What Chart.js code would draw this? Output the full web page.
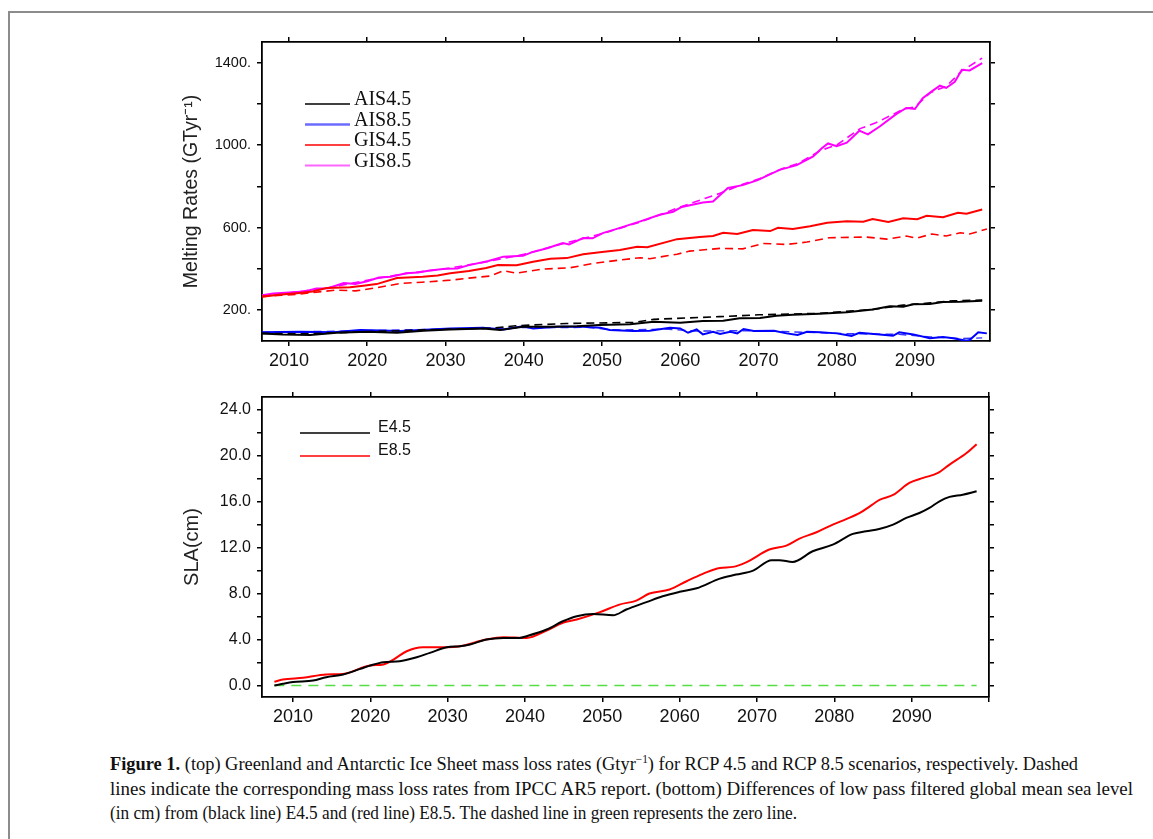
<!DOCTYPE html>
<html>
<head>
<meta charset="utf-8">
<script src="https://cdn.jsdelivr.net/npm/chart.js@4.4.1/dist/chart.umd.min.js"></script>
<style>
  html, body { margin: 0; padding: 0; background: #fff; }
  body { width: 1153px; height: 839px; position: relative; overflow: hidden; }
  #frame { position: absolute; left: 8px; top: 11px; width: 1200px; height: 900px;
           border-left: 2px solid #8c8c8c; border-top: 2px solid #8c8c8c; }
  .box { position: absolute; left: 0; width: 1153px; }
  #topBox { top: 0; height: 380px; }
  #botBox { top: 380px; height: 345px; }
  #caption { position: absolute; left: 110px; top: 752px; font-family: "Liberation Serif", serif;
             font-size: 19.5px; line-height: 24.5px; color: #111; }
  #caption div { white-space: nowrap; transform-origin: 0 0; width: max-content; }
  #caption sup { font-size: 12px; line-height: 0; }
</style>
</head>
<body>
<div id="frame"></div>
<div class="box" id="topBox"><canvas id="topChart"></canvas></div>
<div class="box" id="botBox"><canvas id="botChart"></canvas></div>
<div id="caption">
  <div data-w="968"><b>Figure 1.</b> (top) Greenland and Antarctic Ice Sheet mass loss rates (Gtyr<sup>−1</sup>) for RCP 4.5 and RCP 8.5 scenarios, respectively. Dashed</div>
  <div data-w="1023">lines indicate the corresponding mass loss rates from IPCC AR5 report. (bottom) Differences of low pass filtered global mean sea level</div>
  <div data-w="687">(in cm) from (black line) E4.5 and (red line) E8.5. The dashed line in green represents the zero line.</div>
</div>
<script>
// ---- top panel: melting rates (Gt/yr) ----
const ais45Years = [2006.5, 2009.2, 2012.7, 2016.1, 2020, 2023.8, 2027.2, 2030.6, 2034.8, 2037, 2039.9, 2043.4, 2046.8, 2049.7, 2053.6, 2056.6, 2060, 2062.9, 2065.5, 2067.6, 2070.2, 2072.3, 2074.4, 2077.8, 2081.3, 2084.6, 2086.8, 2088.5, 2089.8, 2091.9, 2093.6, 2095.8, 2098.6];
const ais45 = [87, 82, 79, 90, 95, 90, 100, 106, 111, 103, 119, 119, 122, 127, 131, 143, 138, 147, 148, 160, 161, 172, 177, 182, 190, 203, 219, 216, 228, 229, 239, 240, 245];

const ais45ArYears = [2006.5, 2012, 2020, 2030, 2036, 2039, 2045.5, 2054, 2056.6, 2065, 2070, 2077.8, 2084.6, 2088.5, 2092, 2094.9, 2098.6];
const ais45Ar = [87, 85, 95, 107, 112, 124, 135, 140, 155, 168, 177, 184, 203, 224, 235, 245, 248];

const ais85Years = [2006.5, 2011.4, 2015.7, 2019.1, 2024.2, 2030.6, 2034.8, 2037.4, 2039.9, 2041.2, 2044.3, 2047.6, 2049.8, 2051, 2054, 2056.1, 2058.7, 2060, 2061, 2062.1, 2062.9, 2064.2, 2065.1, 2066.4, 2067.3, 2068.1, 2069.4, 2072, 2073.6, 2075, 2076.2, 2077.9, 2080, 2081.9, 2082.9, 2085.5, 2087.2, 2088, 2089.8, 2091.9, 2093.6, 2094.9, 2096.6, 2097, 2098.1, 2099.2];
const ais85 = [92, 95, 92, 103, 98, 111, 114, 106, 122, 111, 119, 119, 114, 103, 98, 100, 114, 111, 90, 106, 82, 95, 84, 95, 87, 108, 98, 100, 87, 79, 95, 92, 87, 75, 90, 82, 75, 92, 82, 63, 69, 63, 51, 55, 92, 87];

const ais85ArYears = [2006.5, 2012, 2020, 2030, 2040, 2048, 2052, 2058, 2062, 2068, 2072, 2078, 2082, 2088, 2092, 2096, 2098.6];
const ais85Ar = [92, 95, 100, 108, 115, 116, 103, 108, 98, 100, 97, 90, 85, 82, 70, 62, 65];

const gis45Years = [2006.5, 2009, 2011, 2013, 2014.8, 2017.8, 2019.5, 2021.2, 2023.8, 2027.1, 2029, 2030.6, 2033, 2035.2, 2036.7, 2039.1, 2041.2, 2043.4, 2045.5, 2047.6, 2050, 2052.3, 2054.5, 2055.8, 2059.6, 2062.5, 2064.2, 2065.5, 2067.3, 2069.3, 2071.5, 2072.5, 2074.4, 2076.6, 2078.8, 2081.3, 2083.4, 2084.6, 2086.6, 2088.5, 2090.3, 2091.5, 2093.6, 2095.5, 2096.6, 2098.6];
const gis45 = [265, 275, 282, 290, 307, 311, 318, 326, 355, 362, 368, 378, 390, 404, 418, 417, 434, 449, 452, 471, 482, 491, 507, 505, 544, 554, 559, 575, 569, 588, 583, 599, 593, 607, 623, 631, 628, 641, 627, 645, 641, 657, 650, 672, 667, 688];

const gis45ArYears = [2006.5, 2009, 2011, 2013, 2016.1, 2018.5, 2021.2, 2024.2, 2027, 2030.6, 2033, 2035.7, 2037.4, 2039.1, 2042.5, 2045.9, 2048.9, 2052.3, 2054.9, 2056.1, 2059.6, 2061.2, 2065.1, 2068, 2070.6, 2073.6, 2076.2, 2079.1, 2083.8, 2086.4, 2088.9, 2090.2, 2092.2, 2094, 2095.8, 2097, 2099.2];
const gis45Ar = [265, 272, 276, 285, 297, 293, 308, 329, 335, 345, 355, 365, 391, 379, 399, 405, 426, 443, 454, 449, 471, 486, 499, 497, 523, 518, 530, 551, 554, 544, 559, 549, 569, 559, 575, 569, 593];

const gis85Years = [2006.5, 2008, 2010, 2012, 2013.5, 2015, 2017, 2018.5, 2020, 2021.5, 2023, 2025, 2026.5, 2028, 2030, 2031.5, 2033, 2035.5, 2037.4, 2039.9, 2041, 2043, 2045, 2045.8, 2047.6, 2048.8, 2050.1, 2052, 2054.9, 2057.4, 2059.1, 2060.2, 2062.9, 2064.2, 2065.1, 2066.1, 2068, 2069.9, 2072.7, 2074.9, 2077, 2078.1, 2078.9, 2080, 2081.3, 2082.9, 2084, 2085.5, 2087.6, 2088.9, 2090, 2091, 2092.2, 2093.2, 2094, 2095.1, 2096, 2097, 2098.6];
const gis85 = [272, 280, 285, 290, 305, 306, 331, 326, 340, 358, 362, 378, 382, 392, 400, 402, 418, 438, 459, 463, 480, 500, 525, 518, 549, 548, 573, 595, 630, 662, 677, 700, 722, 726, 758, 792, 806, 830, 880, 903, 945, 985, 1008, 995, 1012, 1070, 1052, 1090, 1150, 1180, 1175, 1228, 1262, 1288, 1277, 1307, 1365, 1362, 1398];

const gis85ArYears = [2006.5, 2010, 2015, 2020, 2025, 2030, 2035, 2040, 2045, 2050, 2055, 2060, 2065, 2068, 2070, 2073, 2075, 2078, 2080, 2083, 2085, 2087, 2088.5, 2090, 2092, 2094, 2096, 2098.6];
const gis85Ar = [270, 283, 308, 345, 378, 400, 432, 470, 522, 570, 628, 700, 765, 810, 835, 885, 910, 975, 1000, 1080, 1108, 1145, 1175, 1185, 1255, 1285, 1360, 1422];

const topYTicks = [200, 600, 1000, 1400];
const xTickYears = [2010, 2020, 2030, 2040, 2050, 2060, 2070, 2080, 2090];

// ---- bottom panel: sea level anomaly (cm) ----
const e45Years = [2007.6, 2008.7, 2010, 2012.6, 2014.3, 2016.5, 2018.7, 2020, 2021.7, 2023.8, 2026, 2027.7, 2029.9, 2031.6, 2032.9, 2035, 2037.2, 2039.3, 2040.2, 2042.8, 2044.9, 2046.7, 2048.8, 2051.4, 2053.1, 2055.7, 2057.8, 2060, 2062.2, 2065.2, 2067.3, 2069.5, 2071.9, 2072.9, 2074.6, 2077.2, 2079.8, 2082.4, 2084.1, 2085.8, 2087.6, 2089.3, 2091, 2092.3, 2093.6, 2094.9, 2096.6, 2098.4];
const e45 = [0.0, 0.15, 0.3, 0.43, 0.72, 0.96, 1.45, 1.74, 2.03, 2.11, 2.46, 2.84, 3.33, 3.42, 3.57, 4.0, 4.14, 4.14, 4.29, 4.87, 5.59, 6.03, 6.23, 6.11, 6.61, 7.25, 7.77, 8.15, 8.46, 9.3, 9.65, 10.0, 10.9, 10.9, 10.75, 11.68, 12.26, 13.19, 13.42, 13.62, 14.0, 14.58, 15.01, 15.45, 16.03, 16.41, 16.6, 16.9];

const e85Years = [2007.6, 2008.7, 2011.3, 2014.3, 2016.5, 2020, 2021.7, 2023, 2024.7, 2026.8, 2029.9, 2031.6, 2035, 2037.2, 2040.2, 2042.8, 2044.9, 2046.7, 2049.7, 2052.2, 2054.4, 2056.1, 2058.7, 2060.9, 2063, 2065.2, 2066.9, 2068.6, 2071.6, 2073.8, 2075.5, 2077.7, 2079.8, 2081.6, 2083.3, 2084.6, 2085.9, 2087.6, 2089.7, 2091.5, 2093.4, 2094.9, 2097.1, 2098.4];
const e85 = [0.32, 0.52, 0.67, 0.96, 1.01, 1.74, 1.83, 2.26, 2.98, 3.33, 3.33, 3.42, 4.0, 4.2, 4.14, 4.78, 5.45, 5.74, 6.38, 7.04, 7.39, 8.0, 8.35, 9.07, 9.71, 10.23, 10.32, 10.72, 11.83, 12.17, 12.78, 13.33, 14.0, 14.49, 15.01, 15.59, 16.17, 16.58, 17.62, 18.06, 18.49, 19.22, 20.23, 21.0];

const zeroYears = [2007.6, 2098.4];
const zeroLine = [0, 0];

const botYTicks = [0, 4, 8, 12, 16, 20, 24];

// pair up years and values for the linear x scale
function pts(xs, ys) {
  return xs.map((x, i) => ({ x: x, y: ys[i] }));
}

// legend drawn inside the plot area, lines then labels
const innerLegend = {
  id: 'innerLegend',
  afterDatasetsDraw(chart, args, opts) {
    const ctx = chart.ctx;
    const a = chart.chartArea;
    ctx.save();
    opts.items.forEach((it, i) => {
      const ly = a.top + opts.lineY + i * opts.step;
      ctx.beginPath();
      ctx.strokeStyle = it.color;
      ctx.lineWidth = it.width || 1.5;
      ctx.moveTo(a.left + opts.x1, ly);
      ctx.lineTo(a.left + opts.x2, ly);
      ctx.stroke();
      ctx.fillStyle = '#111';
      ctx.font = opts.font;
      ctx.textBaseline = 'middle';
      ctx.fillText(it.text, a.left + opts.textX, a.top + opts.textY + i * opts.step);
    });
    ctx.restore();
  }
};

function frameAxes(xmin, xmax, ymin, ymax, yStep, yLabels, yFmt, sizes, yTitle, yTitleSize, yFont, xFont) {
  const grid = { drawOnChartArea: false, drawTicks: true, tickLength: 5, color: '#000', lineWidth: 1.5 };
  const border = { display: true, color: '#000', width: 1.8 };
  return {
    x: {
      type: 'linear', position: 'bottom', min: xmin, max: xmax,
      grid: grid, border: border,
      ticks: { stepSize: 10, includeBounds: false, maxRotation: 0, color: '#111', padding: 4,
               font: { family: 'Liberation Sans', size: xFont },
               callback: v => (xTickYears.includes(v) ? v : '') },
      afterFit: s => { s.height = sizes.bottom; }
    },
    x2: {
      type: 'linear', position: 'top', min: xmin, max: xmax,
      grid: grid, border: border,
      ticks: { stepSize: 10, includeBounds: false, display: false },
      afterFit: s => { s.height = sizes.top; }
    },
    y: {
      type: 'linear', position: 'left', min: ymin, max: ymax,
      grid: grid, border: border,
      title: { display: true, text: yTitle, color: '#222', padding: { top: 2, bottom: 0 },
               font: { family: 'Liberation Sans', size: yTitleSize } },
      ticks: { stepSize: yStep, includeBounds: false, color: '#111', padding: 6,
               font: { family: 'Liberation Sans', size: yFont },
               callback: v => (yLabels.includes(v) ? yFmt(v) : '') },
      afterFit: s => { s.width = sizes.left; }
    },
    y2: {
      type: 'linear', position: 'right', min: ymin, max: ymax,
      grid: grid, border: border,
      ticks: { stepSize: yStep, includeBounds: false, display: false },
      afterFit: s => { s.width = sizes.right; }
    }
  };
}

new Chart(document.getElementById('topChart'), {
  type: 'line',
  data: {
    datasets: [
      { label: 'AIS4.5', data: pts(ais45Years, ais45), borderColor: '#000000', borderWidth: 2 },
      { label: 'AIS4.5 AR5', data: pts(ais45ArYears, ais45Ar), borderColor: '#000000', borderWidth: 1.6, borderDash: [8, 5] },
      { label: 'AIS8.5', data: pts(ais85Years, ais85), borderColor: '#0000ff', borderWidth: 2 },
      { label: 'AIS8.5 AR5', data: pts(ais85ArYears, ais85Ar), borderColor: '#3333ff', borderWidth: 1.4, borderDash: [8, 5] },
      { label: 'GIS4.5', data: pts(gis45Years, gis45), borderColor: '#ff0000', borderWidth: 2 },
      { label: 'GIS4.5 AR5', data: pts(gis45ArYears, gis45Ar), borderColor: '#ff0000', borderWidth: 1.6, borderDash: [8, 5] },
      { label: 'GIS8.5', data: pts(gis85Years, gis85), borderColor: '#ff00ff', borderWidth: 2 },
      { label: 'GIS8.5 AR5', data: pts(gis85ArYears, gis85Ar), borderColor: '#ff00ff', borderWidth: 1.6, borderDash: [8, 5] }
    ]
  },
  options: {
    responsive: true, maintainAspectRatio: false, animation: false,
    layout: { padding: { left: 178, right: 0, top: 0, bottom: 0 } },
    elements: { point: { radius: 0 }, line: { tension: 0 } },
    plugins: {
      legend: { display: false }, tooltip: { enabled: false },
      innerLegend: {
        x1: 43, x2: 88, textX: 92, lineY: 62, textY: 58, step: 20.5,
        font: '20px "Liberation Serif"',
        items: [
          { text: 'AIS4.5', color: '#000000', width: 1.5 },
          { text: 'AIS8.5', color: '#6b6bff', width: 2.5 },
          { text: 'GIS4.5', color: '#ff0000', width: 1.5 },
          { text: 'GIS8.5', color: '#ff66ff', width: 2 }
        ]
      }
    },
    scales: frameAxes(2006.55, 2099.6, 50, 1500, 200, topYTicks, v => v + '.',
      { left: 84, right: 163, top: 42, bottom: 39 }, 'Melting Rates (GTyr⁻¹)', 19.5, 14.5, 18)
  },
  plugins: [innerLegend]
});

new Chart(document.getElementById('botChart'), {
  type: 'line',
  data: {
    datasets: [
      { label: 'E4.5', data: pts(e45Years, e45), borderColor: '#000000', borderWidth: 2, cubicInterpolationMode: 'monotone' },
      { label: 'E8.5', data: pts(e85Years, e85), borderColor: '#ff0000', borderWidth: 2, cubicInterpolationMode: 'monotone' },
      { label: 'zero', data: pts(zeroYears, zeroLine), borderColor: '#55dd44', borderWidth: 1.5, borderDash: [10, 7] }
    ]
  },
  options: {
    responsive: true, maintainAspectRatio: false, animation: false,
    layout: { padding: { left: 178, right: 0, top: 0, bottom: 0 } },
    elements: { point: { radius: 0 } },
    plugins: {
      legend: { display: false }, tooltip: { enabled: false },
      innerLegend: {
        x1: 38, x2: 108, textX: 116, lineY: 36, textY: 31, step: 23,
        font: '16px "Liberation Sans"',
        items: [
          { text: 'E4.5', color: '#000000', width: 1.5 },
          { text: 'E8.5', color: '#ff0000', width: 1.5 }
        ]
      }
    },
    scales: frameAxes(2006, 2100, -1, 25.1, 2, botYTicks, v => v.toFixed(1),
      { left: 84, right: 164, top: 17, bottom: 28 }, 'SLA(cm)', 20, 16, 18)
  },
  plugins: [innerLegend]
});

// fit caption lines to the widths in the figure
document.querySelectorAll('#caption div').forEach(d => {
  const w = d.getBoundingClientRect().width;
  d.style.transform = 'scaleX(' + (Number(d.dataset.w) / w) + ')';
});
</script>
</body>
</html>
